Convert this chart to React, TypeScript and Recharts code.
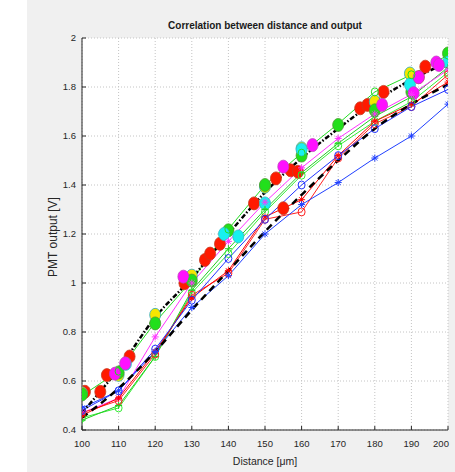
import { CartesianGrid, ComposedChart, Line, Scatter, XAxis, YAxis } from 'recharts';

// distances [um]
const distances = [100, 110, 120, 130, 140, 150, 160, 170, 180, 190, 200];
const xTicks = [100, 110, 120, 130, 140, 150, 160, 170, 180, 190, 200];
const yTicks = [0.4, 0.6, 0.8, 1, 1.2, 1.4, 1.6, 1.8, 2];
const xMinor = Array.from({ length: 51 }, (_, i) => 100 + i * 2);
const yMinor = Array.from({ length: 33 }, (_, i) => +(0.4 + i * 0.05).toFixed(2));

// measured curves (PMT output [V])
const blueStar = [0.49, 0.56, 0.72, 0.9, 1.03, 1.2, 1.32, 1.41, 1.51, 1.6, 1.73];
const blueCircle = [0.48, 0.56, 0.73, 0.93, 1.1, 1.26, 1.4, 1.52, 1.63, 1.72, 1.79];
const redStar = [0.46, 0.53, 0.72, 0.94, 1.05, 1.27, 1.34, 1.52, 1.66, 1.73, 1.82];
const redCircle = [0.47, 0.52, 0.71, 0.95, 1.04, 1.26, 1.29, 1.51, 1.65, 1.72, 1.85];
const magentaStar = [0.47, 0.53, 0.78, 1.0, 1.17, 1.33, 1.47, 1.59, 1.69, 1.77, 1.87];
const greenPlus = [0.44, 0.5, 0.7, 0.97, 1.14, 1.3, 1.45, 1.57, 1.68, 1.76, 1.88];
const greenCircle = [0.45, 0.49, 0.7, 0.96, 1.12, 1.29, 1.44, 1.56, 1.66, 1.74, 1.86];
const greenTop = [0.54, 0.64, 0.84, 1.01, 1.22, 1.4, 1.53, 1.65, 1.78, 1.85, 1.93];

// fits
const fitUpper = [0.47, 0.65, 0.86, 1.02, 1.2, 1.37, 1.51, 1.63, 1.74, 1.83, 1.9];
const fitLower = [0.45, 0.57, 0.72, 0.89, 1.05, 1.21, 1.36, 1.5, 1.63, 1.73, 1.81];

// big markers [distance, output]
const redBig = [[100.8, 0.556], [105, 0.556], [106.8, 0.624], [113, 0.7], [128, 0.999], [133.6, 1.094], [135, 1.12], [137.7, 1.16], [147, 1.325], [153, 1.427], [155, 1.305], [157, 1.46], [159, 1.454], [176, 1.713], [178, 1.727], [182.4, 1.78], [192, 1.84], [193.8, 1.883]];
const yellowBig = [[100, 0.55], [110, 0.625], [120, 0.87], [130, 1.03], [150, 1.393], [160, 1.55], [180, 1.74], [189.6, 1.855]];
const greenBig = [[100, 0.545], [110, 0.635], [120, 0.835], [130, 1.01], [140, 1.215], [150, 1.4], [160, 1.52], [170, 1.645], [180, 1.705], [190, 1.78], [200, 1.937]];
const cyanBig = [[112, 0.67], [138.8, 1.2], [142.7, 1.19], [150, 1.325], [160, 1.545], [189.6, 1.81], [200, 1.9]];
const magentaBig = [[109, 0.63], [111.8, 0.672], [127.7, 1.026], [155, 1.475], [163, 1.563], [182, 1.727], [190.6, 1.775], [192, 1.84], [196.8, 1.9], [197.5, 1.89]];

const pts = (vals: number[]) => distances.map((x, i) => ({ x, y: vals[i] }));
const pairs = (arr: number[][]) => arr.map(([x, y]) => ({ x, y }));

const starDot = (color: string, id: string) => (p: any) => (
  <g key={`${id}-${p.index}`} stroke={color} strokeWidth={1}>
    <line x1={p.cx - 3.5} y1={p.cy} x2={p.cx + 3.5} y2={p.cy} />
    <line x1={p.cx} y1={p.cy - 3.5} x2={p.cx} y2={p.cy + 3.5} />
    <line x1={p.cx - 2.5} y1={p.cy - 2.5} x2={p.cx + 2.5} y2={p.cy + 2.5} />
    <line x1={p.cx - 2.5} y1={p.cy + 2.5} x2={p.cx + 2.5} y2={p.cy - 2.5} />
  </g>
);
const plusDot = (color: string, id: string) => (p: any) => (
  <g key={`${id}-${p.index}`} stroke={color} strokeWidth={1}>
    <line x1={p.cx - 3.5} y1={p.cy} x2={p.cx + 3.5} y2={p.cy} />
    <line x1={p.cx} y1={p.cy - 3.5} x2={p.cx} y2={p.cy + 3.5} />
  </g>
);
const ringDot = (color: string, id: string) => (p: any) => (
  <ellipse key={`${id}-${p.index}`} cx={p.cx} cy={p.cy} rx={3.5} ry={4} fill="none" stroke={color} strokeWidth={1} />
);
const bigDot = (fill: string, stroke: string) => (p: any) => (
  <ellipse cx={p.cx} cy={p.cy} rx={5.5} ry={6.5} fill={fill} stroke={stroke} strokeWidth={0.8} />
);

const tickStyle = { fontSize: 9.5, fill: '#262626', fontFamily: 'Liberation Sans, Arial' };

const XTick = (p: any) => (
  <text x={p.x + (p.payload.value === 200 ? -2 : 0)} y={p.y + 12} textAnchor="middle" {...tickStyle}>
    {p.payload.value}
  </text>
);

const minorX = (props: any) => {
  const s = props?.xAxis?.scale;
  return typeof s === 'function' ? xMinor.map((v) => s(v)) : [];
};
const minorY = (props: any) => {
  const s = props?.yAxis?.scale;
  return typeof s === 'function' ? yMinor.map((v) => s(v)) : [];
};

export default function App() {
  return (
    <div style={{ position: 'absolute', left: 0, top: 0, width: 455, height: 472, background: '#fff', fontFamily: 'Liberation Sans, Arial' }}>
      <div style={{ position: 'absolute', left: 27, top: 0, width: 428, height: 472, background: '#f0f0f0' }} />
      <div style={{ position: 'absolute', left: 82, width: 366, top: 20, textAlign: 'center', fontSize: 10, fontWeight: 'bold', color: '#1a1a1a' }}>
        Correlation between distance and output
      </div>
      <div style={{ position: 'absolute', left: 82, width: 366, top: 455, textAlign: 'center', fontSize: 10.5, color: '#262626' }}>
        Distance [μm]
      </div>
      <div style={{ position: 'absolute', left: 53, top: 237, transform: 'translate(-50%, -50%) rotate(-90deg)', whiteSpace: 'nowrap', fontSize: 12, color: '#262626' }}>
        PMT output [V]
      </div>
      <div style={{ position: 'absolute', left: 0, top: 0 }}>
        <ComposedChart width={455} height={472} margin={{ top: 38, right: 7, left: 42, bottom: 12 }}>
          <CartesianGrid fill="#fff" stroke="#d6d6d6" strokeDasharray="1 2"
            verticalCoordinatesGenerator={minorX} horizontalCoordinatesGenerator={minorY} />
          <CartesianGrid stroke="#c4c4c4" strokeDasharray="1 2" />
          <XAxis dataKey="x" type="number" domain={[100, 200]} ticks={xTicks} height={30} tickSize={-4} tickMargin={9}
            stroke="#262626" tick={<XTick />} allowDataOverflow />
          <XAxis xAxisId="top" orientation="top" dataKey="x" type="number" domain={[100, 200]} ticks={xTicks} height={0}
            tickSize={-4} tickFormatter={() => ''} stroke="#262626" />
          <YAxis dataKey="y" type="number" domain={[0.4, 2]} ticks={yTicks} width={40} tickSize={-4} tickMargin={10}
            stroke="#262626" tick={tickStyle} tickFormatter={(v: number) => String(+v.toFixed(1))} allowDataOverflow />
          <YAxis yAxisId="right" orientation="right" dataKey="y" type="number" domain={[0.4, 2]} ticks={yTicks} width={0}
            tickSize={-4} tickFormatter={() => ''} stroke="#262626" />

          <Scatter data={pairs(redBig)} dataKey="y" fill="#ff0000" shape={bigDot('#ff1a00', '#c83a20')} isAnimationActive={false} />
          <Scatter data={pairs(yellowBig)} dataKey="y" fill="#ffff00" shape={bigDot('#f5e600', '#2aa8c0')} isAnimationActive={false} />
          <Scatter data={pairs(greenBig)} dataKey="y" fill="#00ff00" shape={bigDot('#22e01a', '#4a9a30')} isAnimationActive={false} />
          <Scatter data={pairs(cyanBig)} dataKey="y" fill="#00ffff" shape={bigDot('#18f0f0', '#30b8c8')} isAnimationActive={false} />
          <Scatter data={pairs(magentaBig)} dataKey="y" fill="#ff00ff" shape={bigDot('#ff10ff', '#c040c0')} isAnimationActive={false} />

          <Line data={pts(greenTop)} dataKey="y" stroke="#22dd22" strokeWidth={1} dot={ringDot('#22dd22', 'gt')} isAnimationActive={false} />
          <Line data={pts(greenCircle)} dataKey="y" stroke="#33ee33" strokeWidth={1} dot={ringDot('#33ee33', 'gc')} isAnimationActive={false} />
          <Line data={pts(greenPlus)} dataKey="y" stroke="#22cc22" strokeWidth={1} dot={plusDot('#22cc22', 'gp')} isAnimationActive={false} />
          <Line data={pts(magentaStar)} dataKey="y" stroke="#ff33ff" strokeWidth={1} dot={starDot('#ff33ff', 'ms')} isAnimationActive={false} />
          <Line data={pts(redCircle)} dataKey="y" stroke="#ff2020" strokeWidth={1} dot={ringDot('#ff2020', 'rc')} isAnimationActive={false} />
          <Line data={pts(redStar)} dataKey="y" stroke="#ff0000" strokeWidth={1} dot={starDot('#ff0000', 'rs')} isAnimationActive={false} />
          <Line data={pts(blueCircle)} dataKey="y" stroke="#2233ff" strokeWidth={1} dot={ringDot('#2233ff', 'bc')} isAnimationActive={false} />
          <Line data={pts(blueStar)} dataKey="y" stroke="#1f3fff" strokeWidth={1} dot={starDot('#1f3fff', 'bs')} isAnimationActive={false} />

          <Line data={pts(fitLower)} dataKey="y" type="monotone" stroke="#000" strokeWidth={2.5} strokeDasharray="7 5" dot={false} isAnimationActive={false} />
          <Line data={pts(fitUpper)} dataKey="y" type="monotone" stroke="#000" strokeWidth={2.5} strokeDasharray="5 2 1.5 2" dot={false} isAnimationActive={false} />
        </ComposedChart>
      </div>
    </div>
  );
}
